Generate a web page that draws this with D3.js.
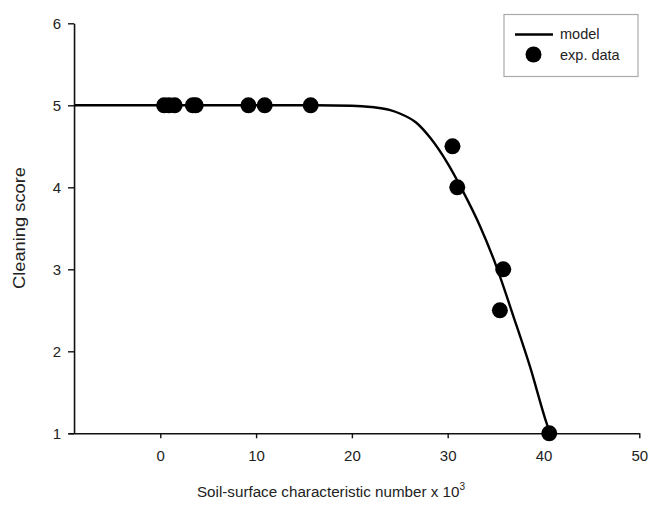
<!DOCTYPE html>
<html>
<head>
<meta charset="utf-8">
<script src="https://cdn.jsdelivr.net/npm/d3@7.9.0/dist/d3.min.js"></script>
<style>
  body { margin: 0; background: #fff; }
  svg { display: block; font-family: 'Liberation Sans', Arial, sans-serif; }
</style>
</head>
<body>
<div id="chart"></div>
<script>
// experimental points (x in units of 10^3)
const expX = [0.4, 0.9, 1.5, 3.4, 3.7, 9.2, 10.9, 15.7, 30.5, 31.0, 35.8, 35.45, 40.6];
const expY = [5, 5, 5, 5, 5, 5, 5, 5, 4.5, 4.0, 3.0, 2.5, 1.0];

// model curve
const modelX = [-9.0, 10, 15, 20, 22, 24, 25, 26.7, 28.2, 29.9, 31.6, 33.4, 35.1, 36.85, 38.6, 40.33, 40.68];
const modelY = [5, 5, 5, 4.995, 4.98, 4.94, 4.9, 4.79, 4.6, 4.31, 3.95, 3.52, 3.03, 2.43, 1.81, 1.12, 1.0];

const xTicks = [0, 10, 20, 30, 40, 50];
const yTicks = [1, 2, 3, 4, 5, 6];

const width = 649;
const height = 506;

const svg = d3.select('#chart')
  .append('svg')
  .attr('width', width)
  .attr('height', height);

const xScale = d3.scaleLinear().domain([-9.6, 50]).range([68.3, 639.3]);
const yScale = d3.scaleLinear().domain([1, 6]).range([433.3, 23.3]);
const yAxisX = xScale(-9.0);

// X axis
const xAxis = svg.append('g')
  .attr('transform', `translate(0, ${yScale(1)})`)
  .call(d3.axisBottom(xScale).tickValues(xTicks).tickFormat(d3.format('d'))
    .tickSize(5).tickSizeOuter(0).tickPadding(12));

// Y axis
const yAxis = svg.append('g')
  .attr('transform', `translate(${yAxisX}, 0)`)
  .call(d3.axisLeft(yScale).tickValues(yTicks).tickFormat(d3.format('d'))
    .tickSize(6).tickSizeOuter(0).tickPadding(7));

[xAxis, yAxis].forEach(g => {
  g.select('.domain').attr('stroke', '#111').attr('stroke-width', 1.6);
  g.selectAll('.tick line').attr('stroke', '#111').attr('stroke-width', 1.4);
  g.selectAll('.tick text')
    .attr('fill', '#222')
    .style('font-size', '15px')
    .style('font-family', "'Liberation Sans', Arial, sans-serif");
});
yAxis.selectAll('.tick text').attr('dy', '0.36em');

// model curve
const modelData = modelX.map((x, i) => ({ x, y: modelY[i] }));
const line = d3.line()
  .x(d => xScale(d.x))
  .y(d => yScale(d.y))
  .curve(d3.curveMonotoneX);

svg.append('path')
  .datum(modelData)
  .attr('d', line)
  .attr('fill', 'none')
  .attr('stroke', '#000')
  .attr('stroke-width', 2.4);

// data points
svg.append('g')
  .selectAll('circle')
  .data(expX.map((x, i) => ({ x, y: expY[i] })))
  .join('circle')
  .attr('cx', d => xScale(d.x))
  .attr('cy', d => yScale(d.y))
  .attr('r', 8)
  .attr('fill', '#000');

// axis titles
svg.append('text')
  .attr('transform', 'translate(25, 228) rotate(-90)')
  .attr('text-anchor', 'middle')
  .attr('fill', '#222')
  .style('font-size', '17px')
  .attr('textLength', 122)
  .attr('lengthAdjust', 'spacingAndGlyphs')
  .text('Cleaning score');

const xTitle = svg.append('text')
  .attr('x', 331)
  .attr('y', 497)
  .attr('text-anchor', 'middle')
  .attr('fill', '#222')
  .style('font-size', '15.2px');
xTitle.append('tspan').text('Soil-surface characteristic number x 10');
xTitle.append('tspan').attr('dy', -7).style('font-size', '10px').text('3');

// legend
const legend = svg.append('g');
legend.append('rect')
  .attr('x', 504).attr('y', 14.5)
  .attr('width', 134).attr('height', 62)
  .attr('fill', '#fff')
  .attr('stroke', '#aaa')
  .attr('stroke-width', 1.2);
legend.append('line')
  .attr('x1', 515).attr('x2', 553)
  .attr('y1', 34.5).attr('y2', 34.5)
  .attr('stroke', '#000').attr('stroke-width', 2.4);
legend.append('circle')
  .attr('cx', 533.5).attr('cy', 54.5).attr('r', 8).attr('fill', '#000');
legend.append('text')
  .attr('x', 560).attr('y', 39)
  .attr('fill', '#222').style('font-size', '14.5px')
  .text('model');
legend.append('text')
  .attr('x', 560).attr('y', 59.5)
  .attr('fill', '#222').style('font-size', '14.5px')
  .text('exp. data');
</script>
</body>
</html>
